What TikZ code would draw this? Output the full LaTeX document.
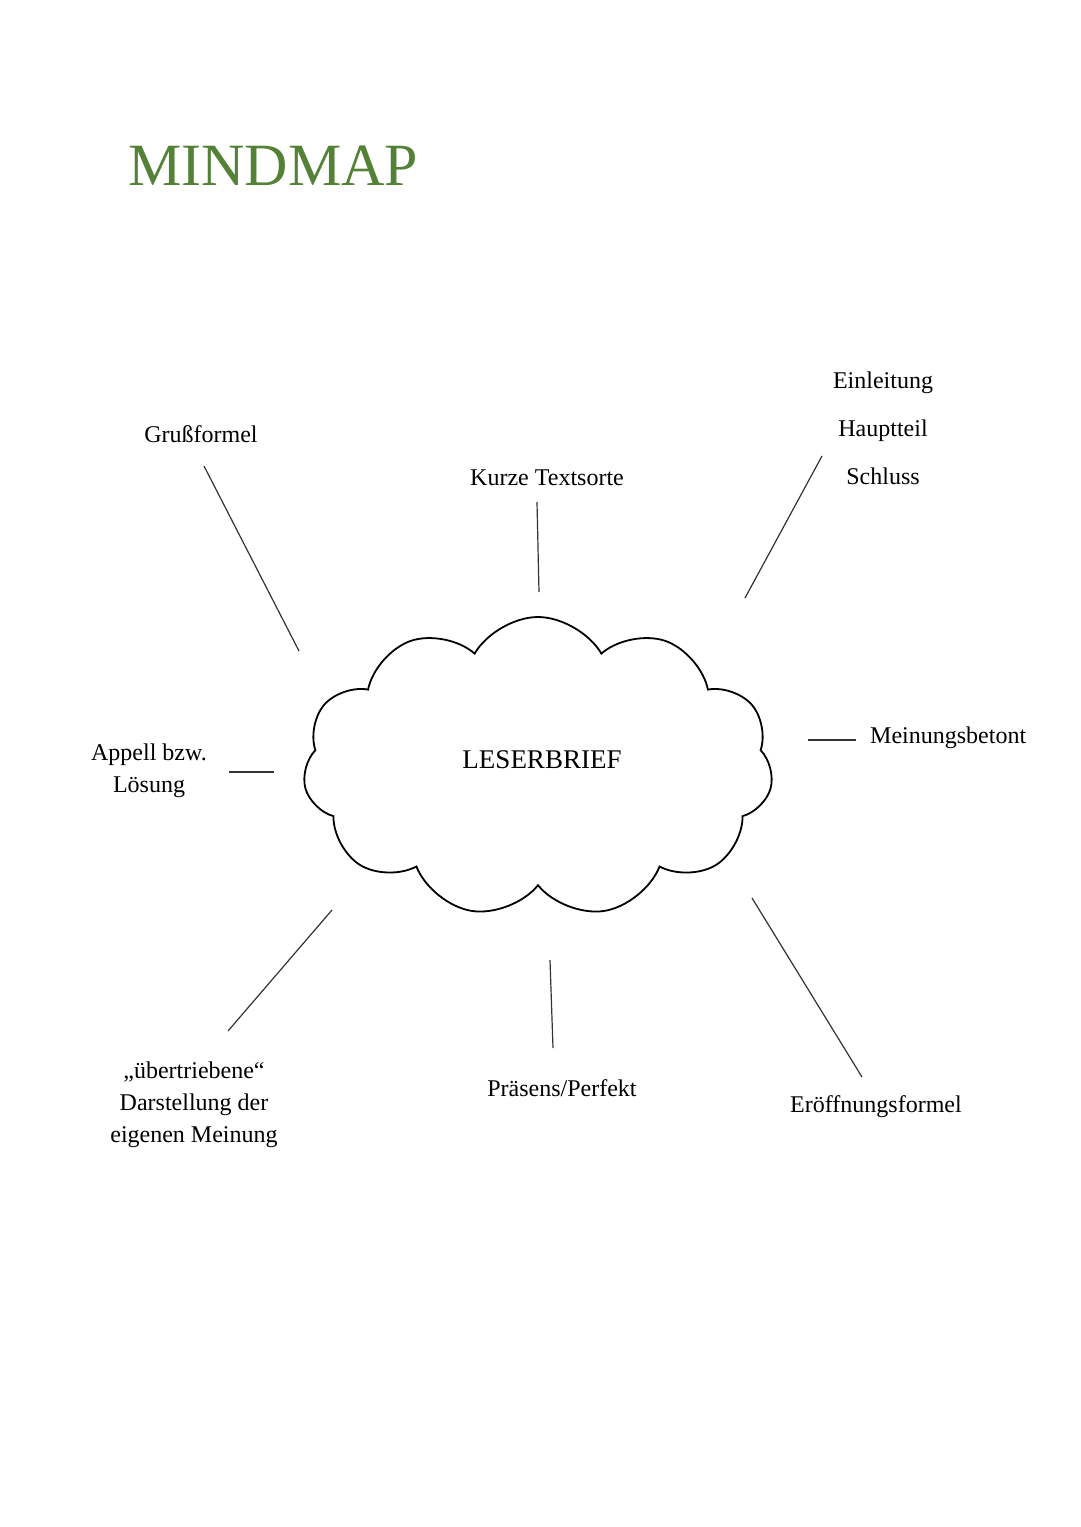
\documentclass[tikz,border=0pt]{standalone}
\usepackage{fontspec}
\setmainfont{Liberation Serif}
\usetikzlibrary{shapes.symbols}
\definecolor{wordgreen}{HTML}{538135}
\begin{document}
\begin{tikzpicture}[x=1pt,y=-1pt,
  lbl/.style={font=\fontsize{24}{32}\selectfont,align=center,inner sep=0pt},
  conn/.style={draw=black!80,line width=1.2pt}]
\useasboundingbox (0,0) rectangle (1080,1527);
\node[inner sep=0pt,font=\fontsize{60}{70}\selectfont,text=wordgreen,anchor=west] (title) at (128,166) {MINDMAP};
\node[cloud,cloud puffs=11,cloud puff arc=120,aspect=1.6,draw,line width=1.8pt,minimum width=470pt,minimum height=300pt,inner sep=0pt] (cl) at (538,767) {};
\node[lbl,font=\fontsize{27}{32}\selectfont] (lb) at (542,760) {LESERBRIEF};
\node[lbl] (g) at (201,434) {Grußformel};
\node[lbl] (k) at (547,478) {Kurze Textsorte};
\node[lbl,align=center] (e) at (883,428) {Einleitung\\[16pt]Hauptteil\\[16pt]Schluss};
\node[lbl,anchor=west] (m) at (870,738) {Meinungsbetont};
\node[lbl] (a) at (149,771) {Appell bzw.\\Lösung};
\node[lbl] (u) at (194,1105) {„übertriebene“\\Darstellung der\\eigenen Meinung};
\node[lbl] (p) at (562,1088) {Präsens/Perfekt};
\node[lbl] (f) at (876,1107) {Eröffnungsformel};
\coordinate (g1) at (204,466); \coordinate (g2) at (299,651);
\coordinate (k1) at (537,502); \coordinate (k2) at (539,592);
\coordinate (e1) at (822,456); \coordinate (e2) at (745,598);
\coordinate (m1) at (856,740); \coordinate (m2) at (808,740);
\coordinate (a1) at (229,772); \coordinate (a2) at (274,772);
\coordinate (u1) at (228,1031); \coordinate (u2) at (332,910);
\coordinate (p1) at (553,1048); \coordinate (p2) at (550,960);
\coordinate (f1) at (862,1077); \coordinate (f2) at (752,898);
\foreach \s in {g,k,e,m,a,u,p,f} {\draw[conn] (\s1) -- (\s2);}
\end{tikzpicture}
\end{document}
